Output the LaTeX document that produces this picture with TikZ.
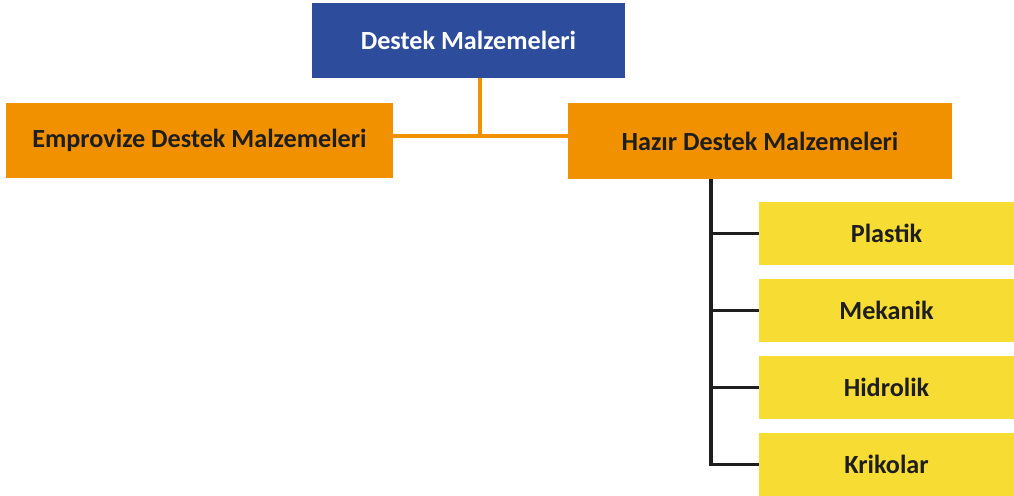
\documentclass[tikz,border=0pt]{standalone}
\usepackage{fontspec}
\setmainfont{Carlito}
\usepackage{tikz}
\usetikzlibrary{positioning}

\definecolor{topblue}{HTML}{2E4C9C}
\definecolor{boxorange}{HTML}{F29100}
\definecolor{boxyellow}{HTML}{F7DC34}
\definecolor{txtdark}{HTML}{1E1E1E}

\begin{document}
\begin{tikzpicture}[
            x=0.02cm, y=-0.02cm,
            box/.style={rectangle, inner sep=0pt, font=\fontsize{14.9}{18}\selectfont\bfseries},
            rootbox/.style={box, fill=topblue, text=white, minimum width=6.26cm, minimum height=1.5cm},
            groupbox/.style={box, fill=boxorange, text=txtdark, minimum width=7.7cm, minimum height=1.52cm},
            itembox/.style={box, fill=boxyellow, text=txtdark, minimum width=5.1cm, minimum height=1.26cm},
            orangeline/.style={draw=boxorange, line width=1.8pt},
            blackline/.style={draw=txtdark, line width=1.8pt}
        ]
        \useasboundingbox (0,0) rectangle (1014,496);

        % Root node
        \node[rootbox] (root) at (468.5,40.5) {Destek Malzemeleri};

        % Group nodes
        \node[groupbox, minimum width=7.74cm] (emp)   at (199.5,140.5) {Emprovize Destek Malzemeleri};
        \node[groupbox, minimum width=7.68cm] (hazir) at (760,141)     {Hazır Destek Malzemeleri};

        % Item nodes
        \node[itembox] (plastik)  at (886.5,233.5) {Plastik};
        \node[itembox] (mekanik)  at (886.5,310.5) {Mekanik};
        \node[itembox] (hidrolik) at (886.5,387.5) {Hidrolik};
        \node[itembox] (krikolar) at (886.5,464.5) {Krikolar};

        % Root -> groups
        \coordinate (join) at (480,136);
        \draw[orangeline] (root.south -| join) -- (join);
        \draw[orangeline] (emp.east |- join) -- (hazir.west |- join);

        % Hazir -> items
        \coordinate (trunk) at (711,179);
        \draw[blackline] (hazir.south -| trunk) |- (krikolar.west);
        \foreach \it in {plastik, mekanik, hidrolik}
            \draw[blackline] (trunk |- \it.west) -- (\it.west);
    \end{tikzpicture}
\end{document}
